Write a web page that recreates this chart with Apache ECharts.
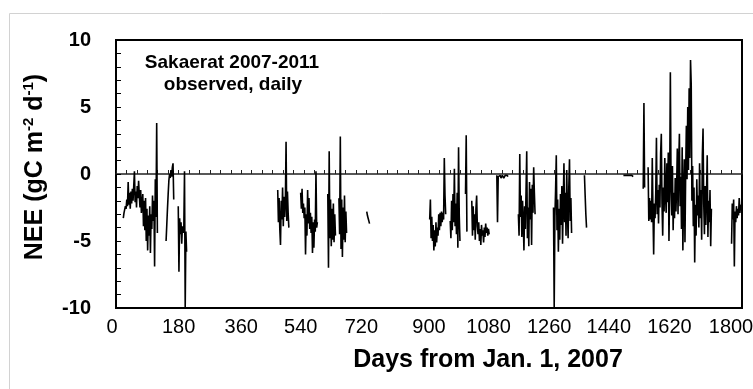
<!DOCTYPE html>
<html><head><meta charset="utf-8">
<script src="https://cdn.jsdelivr.net/npm/echarts/dist/echarts.min.js"></script>
<style>html,body{margin:0;padding:0;background:#fff}#c{width:753px;height:389px}</style>
</head><body><div id="c"></div>
<script>
// ---- axis ticks ----
const xTickLabels = [0,180,360,540,720,900,1080,1260,1440,1620,1800];
const yTickLabels = [-10,-5,0,5,10];
const dayStep = 2; // days between successive readings within each segment

// ---- observed daily NEE (gC m-2 d-1) ----
const seg2007aStart = 21;
const seg2007a = [-3.3,-2.9,-3.0,-2.4,-2.6,-1.9,-2.4,-0.6,-2.3,-1.4,-2.6,-1.3,-2.2,-1.1,-2.0,-0.9,0.2,-2.1,-1.3,-2.5,-0.9,-1.8,-0.5,-1.6,-2.5,-1.2,-2.9,-2.2,
  -1.5,-3.9,-2.0,-4.2,-1.8,-5.0,-2.6,-5.7,-3.1,-4.6,-2.4,-5.9,-3.0,-4.1,-1.6,-3.5,-2.0,-6.9,-0.4,-3.2,3.8,-4.4];
const seg2007bStart = 144;
const seg2007b = [-5.0,-3.8,-2.6,-1.5,-0.5,0.0,-0.3,0.3,-0.2,0.5,0.8,-1.9];
const seg2007cStart = 179;
const seg2007c = [-2.4,-7.3,-3.3,-4.5,-3.6,-5.2,-3.9,-4.4,-4.0,0.2,-10.0,-4.3,-5.8];

const seg2008aStart = 465;
const seg2008a = [-1.2,-3.6,-1.8,-4.1,-5.3,-2.0,-3.4,-1.0,-3.9,-1.7,-3.2,-2.1,2.4,-3.5,-1.3,-2.9,-4.0];
const seg2008bStart = 531;
const seg2008b = [-1.4,-2.6,-1.1,-2.9,-2.2,-3.3,-2.5,-6.0,-3.0,-4.6,-1.2,-3.7,-1.8,-4.1,-2.9,-4.4,-3.2,-5.9,-3.6,-5.5,-3.4,-4.3,0.2,-4.0,-3.6];
const seg2008cStart = 609;
const seg2008c = [-1.5,-7.0,1.7,-4.8,-1.9,-5.4,-2.6,-4.9,-2.2,-5.1,-3.0,-4.6];
const seg2008dStart = 641;
const seg2008d = [-1.8,-4.5,2.8,-5.6,-1.9,-6.2,-2.5,-4.9,-1.6,-5.1,-2.8,-4.4];
const seg2008eStart = 721;
const seg2008e = [-2.8,-3.1,-3.3,-3.5,-3.7];

const seg2009aStart = 902;
const seg2009a = [-3.4,-1.9,-4.8,-3.2,-5.0,-3.8,-5.7,-4.2,-5.4,-3.6,-5.1,-4.0,-4.6,-3.0,-4.2,-2.9,-3.9,-2.8,-3.6,-2.9,-3.4,1.2,-1.6,-3.0];
const seg2009bStart = 961;
const seg2009b = [-3.5,-4.8,-2.0,-4.2,-1.5,-3.6,0.4,-3.9,-2.2,-4.5,-1.4,-5.5,2.0,-3.1,-5.0];
const seg2009cStart = 1005;
const seg2009c = [-1.5,2.9,-4.3];
const seg2009dStart = 1023;
const seg2009d = [-2.0,-4.6,-2.4,-4.2,-3.0,-4.9,-2.6,-1.6,-3.9,-4.5,-3.6,-5.0,-4.1,-5.3,-3.8,-4.6,-4.2,-5.1,-4.0,-4.7,-3.7,-4.4,-4.0,-4.6,-4.1,-4.5];
const seg2009eStart = 1095;
const seg2009e = [-0.1,-3.6,-0.2,-0.3,-0.2,-0.1,-0.3,-0.2,-0.1,-0.2,-0.3,-0.2,-0.1,-0.2,-0.2,-0.1,-0.2];

const seg2010aStart = 1157;
const seg2010a = [-3.0,-4.6,1.5,-3.2,-1.6,-4.7,-2.0,-3.5,-5.7,-2.4,-4.1,-1.3,1.7,-4.8,-2.5,-5.4,-0.6,-3.4,-1.1,-5.3,-0.8,-2.9,0.5,-1.4,-3.0];
const seg2010bStart = 1258;
const seg2010b = [-2.5,-10.0,-3.2,-1.2,1.4,-4.2,-1.9,-5.8,-2.6,-4.9,-1.5,-3.8,-0.9,-5.2,-2.2,0.8,-3.6,-1.4,-4.6,0.3,-2.7,-4.8,-1.0,1.1,-3.5,-1.8,-4.4];
const seg2010cStart = 1347;
const seg2010c = [-0.1,-1.6,-3.0,-4.0];
const seg2010dStart = 1459;
const seg2010d = [-0.1,-0.1,-0.2,-0.1,-0.1,-0.2,-0.1,-0.1,-0.2,-0.1,-0.1,-0.2,-0.1,-0.1,-0.2];

const seg2011aStart = 1516;
const seg2011a = [-1.1,5.3,-1.0];
const seg2011bStart = 1530;
const seg2011b = [0.5,-3.5,-1.8,-3.4,-2.0,-3.6,1.2,-2.8,-6.0,-2.2,-3.3,-1.4,2.7,-3.0,-1.2,-3.7,-0.8,-2.5,1.5,3.0,
  -2.2,-4.6,-1.0,-2.8,1.2,-1.5,-2.9,0.8,-2.1,1.6,-5.0,-1.0,7.6,-0.8,-3.1,0.6,-4.2,-1.4,-3.3,-0.3,
  -2.8,-1.0,1.9,-3.0,0.7,3.0,-2.4,-0.2,-4.1,2.0,-5.7,-1.5,1.1,-5.1,0.0,3.6,-0.4,5.0,0.3,6.4,
  1.2,8.5,6.7,-2.0,0.6,-3.9,-1.0,-6.6,-2.3,-4.6,-0.4,-3.1,-1.6,-4.0,0.8,-3.3,-1.2,-4.9,1.4,3.4,
  -2.2,-4.5,-0.9,-3.8,-1.5,1.4,-4.7,-2.0,-3.6,-1.2,-5.4,-2.6];
const seg2011cStart = 1770;
const seg2011c = [-5.2,-2.2,-3.4,-1.9,-6.9,-2.8,-3.6,-2.4,-3.3,-2.6,-3.1,-1.8,-2.9,-2.3,-2.5];

const segments = [
  [seg2007aStart, seg2007a],[seg2007bStart, seg2007b],[seg2007cStart, seg2007c],
  [seg2008aStart, seg2008a],[seg2008bStart, seg2008b],[seg2008cStart, seg2008c],[seg2008dStart, seg2008d],[seg2008eStart, seg2008e],
  [seg2009aStart, seg2009a],[seg2009bStart, seg2009b],[seg2009cStart, seg2009c],[seg2009dStart, seg2009d],[seg2009eStart, seg2009e],
  [seg2010aStart, seg2010a],[seg2010bStart, seg2010b],[seg2010cStart, seg2010c],[seg2010dStart, seg2010d],
  [seg2011aStart, seg2011a],[seg2011bStart, seg2011b],[seg2011cStart, seg2011c]
];
const lineData = [];
segments.forEach(([start, vals]) => {
  vals.forEach((v, i) => lineData.push([start + i * dayStep, v]));
  lineData.push([start + vals.length * dayStep, null]);
});

const FONT = '"Liberation Sans", Arial, sans-serif';
// small leftward nudges (px) of some x tick labels, as placed in the original figure
const xLabelNudge = {0: 4, 540: 3, 720: 5, 1080: 3, 1260: 5, 1440: 8, 1620: 10, 1800: 11};
const xLabelRich = {};
Object.values(xLabelNudge).forEach(s => {
  xLabelRich['n' + s] = { padding: [0, 2 * s, 0, 0], fontSize: 20, fontFamily: FONT, color: '#000' };
});

const chart = echarts.init(document.getElementById('c'));
chart.setOption({
  animation: false,
  backgroundColor: '#fff',
  grid: { left: 116, right: 11, top: 40, bottom: 81, containLabel: false, outerBoundsMode: 'none',
    show: true, borderColor: '#000', borderWidth: 2, backgroundColor: 'transparent' },
  xAxis: [{
    type: 'value', min: xTickLabels[0], max: xTickLabels[xTickLabels.length - 1], interval: 180, position: 'bottom',
    axisLine: { show: true, onZero: false, lineStyle: { color: '#000', width: 2 } },
    axisTick: { show: false }, splitLine: { show: false },
    axisLabel: { color: '#000', fontSize: 20, fontFamily: FONT, margin: 9, hideOverlap: false,
      formatter: v => xLabelNudge[v] ? '{n' + xLabelNudge[v] + '|' + v + '}' : String(v),
      rich: xLabelRich }
  }, {
    type: 'value', min: 0, max: 1800, interval: 30, position: 'top',
    axisLine: { show: true, onZero: true, onZeroAxisIndex: 0, lineStyle: { color: '#222', width: 1.5 } },
    axisTick: { show: true, inside: false, length: 4, lineStyle: { color: '#222', width: 1 } },
    axisLabel: { show: false }, splitLine: { show: false }
  }],
  yAxis: {
    type: 'value', min: -10, max: 10, interval: 1,
    axisLine: { show: true, onZero: false, lineStyle: { color: '#000', width: 2 } },
    axisTick: { show: true, inside: true, length: 5, lineStyle: { color: '#000', width: 1 } },
    splitLine: { show: false },
    axisLabel: { color: '#000', fontSize: 20, fontWeight: 'bold', fontFamily: FONT, margin: 25,
      formatter: v => yTickLabels.includes(v) ? String(v) : '' }
  },
  graphic: [
    { type: 'rect', shape: { x: 9.5, y: 13.5, width: 800, height: 420 }, style: { fill: 'none', stroke: '#d2d2d2', lineWidth: 1 }, silent: true },
    { type: 'text', x: 232, y: 63, style: { text: 'Sakaerat 2007-2011', fill: '#000', font: 'bold 19px ' + FONT, align: 'center', verticalAlign: 'middle', textAlign: 'center', textVerticalAlign: 'middle' } },
    { type: 'text', x: 233, y: 85, style: { text: 'observed, daily', fill: '#000', font: 'bold 19px ' + FONT, align: 'center', verticalAlign: 'middle', textAlign: 'center', textVerticalAlign: 'middle' } },
    { type: 'text', x: 488, y: 360, style: { text: 'Days from Jan. 1, 2007', fill: '#000', font: 'bold 25px ' + FONT, align: 'center', verticalAlign: 'middle', textAlign: 'center', textVerticalAlign: 'middle' } },
    { type: 'text', x: 35, y: 167, rotation: Math.PI / 2,
      style: { text: 'NEE (gC m{s|-2} d{s|-1})', fill: '#000', font: 'bold 25px ' + FONT, align: 'center', verticalAlign: 'middle', textAlign: 'center', textVerticalAlign: 'middle',
        rich: { s: { fontSize: 15, fontWeight: 'bold', fontFamily: FONT, fill: '#000', verticalAlign: 'top', lineHeight: 28 } } } }
  ],
  series: [{
    type: 'line', xAxisIndex: 0, data: lineData, showSymbol: false, symbol: 'none', connectNulls: false,
    lineStyle: { color: '#000', width: 1.6 }, z: 3
  }]
});
</script></body></html>
